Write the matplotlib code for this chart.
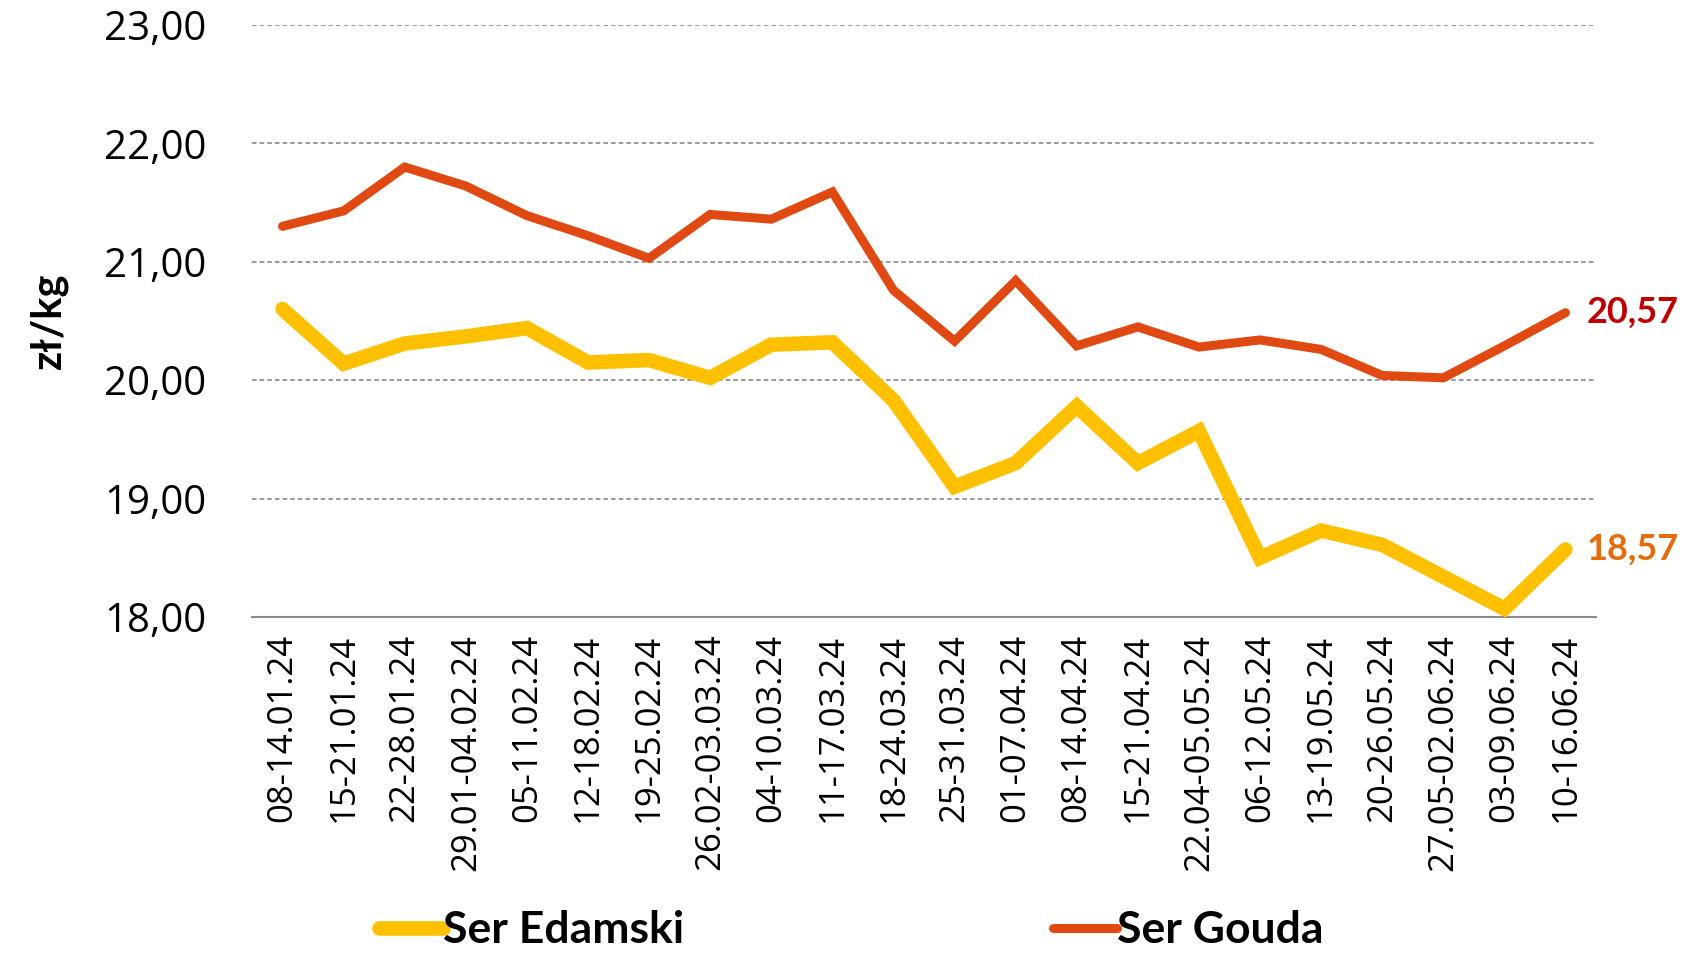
import numpy as np
import matplotlib
matplotlib.use('Agg')
import matplotlib.pyplot as plt

plt.rcParams['font.family'] = ['Lato', 'DejaVu Sans']

weeks = ['08-14.01.24', '15-21.01.24', '22-28.01.24', '29.01-04.02.24', '05-11.02.24',
         '12-18.02.24', '19-25.02.24', '26.02-03.03.24', '04-10.03.24', '11-17.03.24',
         '18-24.03.24', '25-31.03.24', '01-07.04.24', '08-14.04.24', '15-21.04.24',
         '22.04-05.05.24', '06-12.05.24', '13-19.05.24', '20-26.05.24', '27.05-02.06.24',
         '03-09.06.24', '10-16.06.24']

edamski = [20.60, 20.14, 20.31, 20.37, 20.44, 20.15, 20.17, 20.02, 20.30, 20.32,
           19.83, 19.10, 19.30, 19.78, 19.30, 19.57, 18.50, 18.73, 18.61, 18.34,
           18.07, 18.57]
gouda = [21.30, 21.43, 21.80, 21.64, 21.39, 21.22, 21.03, 21.40, 21.36, 21.59,
         20.76, 20.33, 20.84, 20.29, 20.45, 20.28, 20.34, 20.26, 20.04, 20.02,
         20.29, 20.57]

yellow = '#FFC000'
red = '#E04A12'

fig = plt.figure(figsize=(16.83, 9.59), dpi=100)
ax = fig.add_axes([252/1683, 1 - 617/959, (1596-252)/1683, (617-25)/959])

x = np.arange(len(weeks))
ax.plot(x, edamski, color=yellow, lw=10.5, solid_capstyle='round', solid_joinstyle='miter', label='Ser Edamski', zorder=3)
ax.plot(x, gouda, color=red, lw=6.5, solid_capstyle='round', solid_joinstyle='miter', label='Ser Gouda', zorder=3)

ax.set_xlim(-0.5, len(weeks) - 0.5)
ax.set_ylim(18, 23)
ax.set_yticks([18, 19, 20, 21, 22, 23])
ax.yaxis.set_major_formatter(matplotlib.ticker.FuncFormatter(lambda v, p: ('%.2f' % v).replace('.', ',')))
for t in ax.get_yticklabels():
    t.set_family(['Open Sans', 'DejaVu Sans'])
    t.set_fontsize(29)
ax.set_xticks(x)
ax.set_xticklabels(weeks, rotation=90, fontsize=25, family=['Open Sans', 'DejaVu Sans'])
ax.tick_params(length=0, pad=12)
ax.tick_params(axis='y', pad=33)

ax.grid(axis='y', color='#7f7f7f', linestyle=(0, (3, 2)), lw=1.1)
for s in ['top', 'right', 'left']:
    ax.spines[s].set_visible(False)
ax.spines['bottom'].set_color('#8c8c8c')
ax.spines['bottom'].set_linewidth(1.5)
ax.set_axisbelow(True)

ax.set_ylabel('zł/kg', fontsize=30, fontweight='bold', labelpad=26)

ax.annotate('20,57', (x[-1], gouda[-1]), xytext=(15, 0), textcoords='offset points',
            va='center', ha='left', fontsize=26, fontweight='bold', color='#C00000', annotation_clip=False)
ax.annotate('18,57', (x[-1], edamski[-1]), xytext=(15, 0), textcoords='offset points',
            va='center', ha='left', fontsize=26, fontweight='bold', color='#E46C0A', annotation_clip=False)

fig.legend(loc='center', bbox_to_anchor=(0.506, 0.03), ncol=2, frameon=False,
           prop={'size': 32, 'weight': 'bold'},
           handlelength=1.44, handletextpad=0.0, columnspacing=8.3)

fig.savefig('out.png', dpi=100)
